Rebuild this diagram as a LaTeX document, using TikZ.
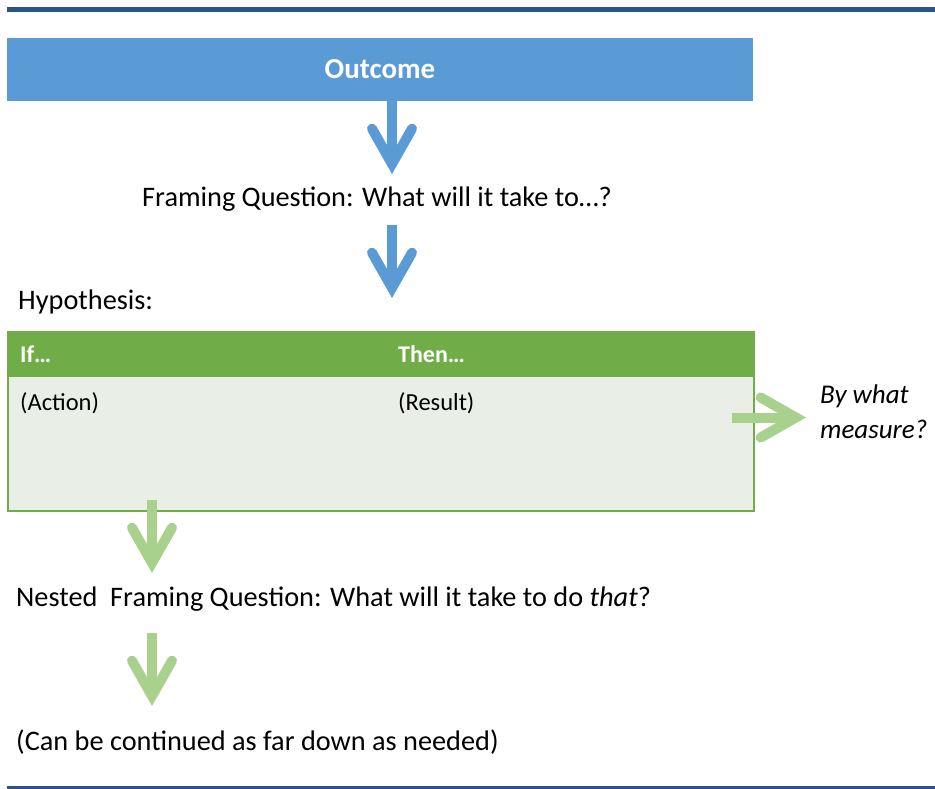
\documentclass[tikz,border=0pt]{standalone}
\usepackage{fontspec}
\setmainfont{Carlito}
\usepackage{tikz}
\definecolor{outcomeblue}{HTML}{5B9BD5}
\definecolor{rulenavy}{HTML}{2A5586}
\definecolor{headgreen}{HTML}{70AD47}
\definecolor{bodygreen}{HTML}{E9EFE7}
\definecolor{arrowgreen}{HTML}{A9D18E}
\tikzset{
    chevron/.pic={\draw[line width=10pt, line cap=round, line join=miter] (-45.3,20) -- (-10.1,0) -- (-45.3,-20);},
    shaft/.style={line width=10pt, shorten >=12pt},
    maintext/.style={inner sep=0pt, font=\fontsize{28.3}{34}\selectfont},
    cellhead/.style={inner sep=0pt, text=white, font=\bfseries\fontsize{24}{28}\selectfont},
    celltext/.style={inner sep=0pt, font=\fontsize{24.5}{29}\selectfont}
}

\begin{document}
\begin{tikzpicture}[x=1pt, y=1pt]
            \useasboundingbox (0,0) rectangle (935,-788);
            \draw[rulenavy, line width=5pt](7,-9.2)--(935,-9.2);
            \draw[rulenavy, line width=2.5pt](7,-787.5)--(935,-787.5);
            % outcome and framing question
            \node[fill=outcomeblue, text=white, minimum width=746pt, minimum height=63pt, inner sep=0pt,
                font=\bfseries\fontsize{29}{34}\selectfont] (outcome) at (380,-69) {Outcome};
            \node[maintext, anchor=base] (framing) at (377,-206) {Framing Question: What will it take to…?};
            \node[maintext, anchor=base west] (hypo) at (18,-309) {Hypothesis:};
            % hypothesis table
            \node[fill=bodygreen, draw=headgreen, line width=1.5pt, minimum width=746pt, minimum height=179pt,
                inner sep=0pt, anchor=north west] (hyptable) at (7,-331) {};
            \node[fill=headgreen, minimum width=746pt, minimum height=46pt, inner sep=0pt,
                anchor=north west] (hyphead) at (hyptable.north west) {};
            \node[cellhead, anchor=base west] (ifcell) at (20,-362.7) {If…};
            \node[cellhead, anchor=base west] (thencell) at (398,-362.7) {Then…};
            \node[celltext, anchor=base west] (action) at (20,-410) {(Action)};
            \node[celltext, anchor=base west] (result) at (398,-410) {(Result)};
            \node[inner sep=0pt, anchor=base west, align=left, font=\itshape\fontsize{27}{34.7}\selectfont]
                (measure) at (820,-438) {By what\\measure?};
            \node[maintext, anchor=base west] (nested) at (16,-606.7) {Nested~ Framing Question: What will it take to do \textit{that}?};
            \node[maintext, anchor=base west] (continued) at (16,-750) {(Can be continued as far down as needed)};
            % arrows
            \coordinate (tipA) at (392,-174);
            \coordinate (tailB) at (392,-225);
            \coordinate (tipB) at (392,-298);
            \coordinate (tailM) at (732,-417.5);
            \coordinate (tipM) at (806,-417.5);
            \coordinate (tailC) at (152,-500);
            \coordinate (tipC) at (152,-573);
            \coordinate (tailD) at (152,-633);
            \coordinate (tipD) at (152,-706);
            \draw[outcomeblue, shaft](outcome.south -| tipA)--(tipA);
            \pic[outcomeblue, rotate=-90] at (tipA) {chevron};
            \foreach \s/\t/\c/\r in {tailB/tipB/outcomeblue/-90, tailM/tipM/arrowgreen/0, tailC/tipC/arrowgreen/-90, tailD/tipD/arrowgreen/-90}{
                \draw[\c, shaft](\s)--(\t);
                \pic[\c, rotate=\r] at (\t) {chevron};
            }
        \end{tikzpicture}
\end{document}
